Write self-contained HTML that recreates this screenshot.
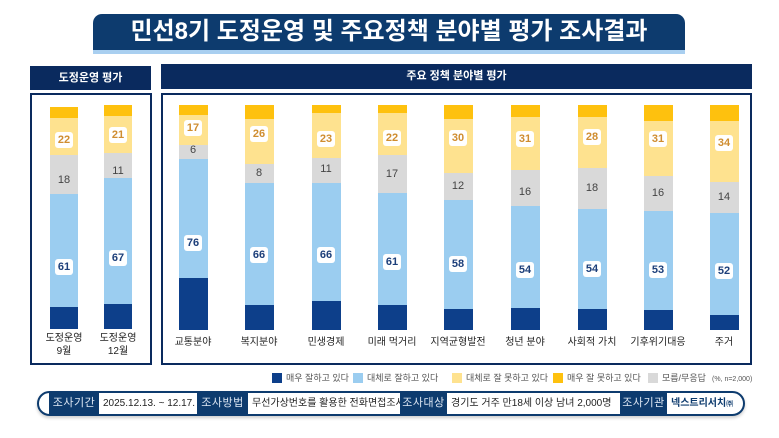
<!DOCTYPE html>
<html><head><meta charset="utf-8"><style>
*{margin:0;padding:0;box-sizing:border-box}
body{width:779px;height:438px;background:#fff;position:relative;overflow:hidden;font-family:"Liberation Sans","Noto Sans CJK KR",sans-serif}
.a{position:absolute}
.s{position:absolute}
.o{background:#fec10e}.y{background:#fee28f}.g{background:#d9d9d9}.b{background:#9bcdf0}.d{background:#0d3f8a}
.lb{position:absolute;width:18px;height:16px;margin-left:-9px;margin-top:-8px;background:#fff;border-radius:3px;font-size:11px;line-height:16px;text-align:center;font-weight:bold}
.ly{color:#cf8d30}.lbl{color:#1d3f7a}
.gt{position:absolute;width:20px;margin-left:-10px;margin-top:-7px;font-size:11px;line-height:14px;text-align:center;color:#444}
.cat{position:absolute;width:80px;margin-left:-40px;text-align:center;font-size:10px;color:#222;line-height:13px}
.leg{position:absolute;top:373px;width:10px;height:10px}
.lt{position:absolute;top:372px;font-size:9px;color:#555;line-height:12px}
.dk{position:absolute;top:393px;height:21px;background:#0d3b6e;color:#dfe8f4;font-size:11px;line-height:21px;text-align:center;letter-spacing:0.5px}
.wt{position:absolute;top:393px;height:21px;color:#222;font-size:10px;line-height:21px;padding-left:4px;white-space:nowrap}
</style></head><body>
<!-- title -->
<div class="a" style="left:93px;top:18px;width:592px;height:36px;background:#a9cff0;border-radius:9px 9px 0 0"></div>
<div class="a" style="left:93px;top:14px;width:592px;height:36px;background:#0d3b6e;border-radius:9px 9px 0 0;color:#fff;font-size:24px;font-weight:bold;text-align:center;line-height:36px">민선8기 도정운영 및 주요정책 분야별 평가 조사결과</div>
<!-- headers -->
<div class="a" style="left:30px;top:66px;width:121px;height:24px;background:#0a2a5e;color:#fff;font-size:11px;font-weight:bold;text-align:center;line-height:24px">도정운영 평가</div>
<div class="a" style="left:161px;top:64px;width:591px;height:25px;background:#0a2a5e;color:#fff;font-size:11px;font-weight:bold;text-align:center;line-height:25px">주요 정책 분야별 평가</div>
<div class="a" style="left:30px;top:93px;width:122px;height:272px;border:2px solid #0a2a5e"></div>
<div class="a" style="left:161px;top:93px;width:591px;height:272px;border:2px solid #0a2a5e"></div>

<!-- left bars -->
<div class="s o" style="left:50px;top:107px;width:28px;height:11px"></div>
<div class="s y" style="left:50px;top:118px;width:28px;height:37px"></div>
<div class="s g" style="left:50px;top:155px;width:28px;height:39px"></div>
<div class="s b" style="left:50px;top:194px;width:28px;height:113px"></div>
<div class="s d" style="left:50px;top:307px;width:28px;height:22px"></div>
<div class="lb ly" style="left:64px;top:140px">22</div><div class="gt" style="left:64px;top:180px">18</div><div class="lb lbl" style="left:64px;top:267px">61</div>
<div class="s o" style="left:104px;top:105px;width:28px;height:11px"></div>
<div class="s y" style="left:104px;top:116px;width:28px;height:37px"></div>
<div class="s g" style="left:104px;top:153px;width:28px;height:25px"></div>
<div class="s b" style="left:104px;top:178px;width:28px;height:126px"></div>
<div class="s d" style="left:104px;top:304px;width:28px;height:25px"></div>
<div class="lb ly" style="left:118px;top:135px">21</div><div class="gt" style="left:118px;top:171px">11</div><div class="lb lbl" style="left:118px;top:258px">67</div>
<div class="cat" style="left:64px;top:332px">도정운영<br>9월</div>
<div class="cat" style="left:118px;top:332px">도정운영<br>12월</div>

<!-- right bars -->
<div class="s o" style="left:179px;top:105px;width:29px;height:10px"></div><div class="s y" style="left:179px;top:115px;width:29px;height:30px"></div><div class="s g" style="left:179px;top:145px;width:29px;height:14px"></div><div class="s b" style="left:179px;top:159px;width:29px;height:119px"></div><div class="s d" style="left:179px;top:278px;width:29px;height:52px"></div>
<div class="lb ly" style="left:193px;top:128px">17</div><div class="gt" style="left:193px;top:150px">6</div><div class="lb lbl" style="left:193px;top:243px">76</div><div class="cat" style="left:193px;top:336px">교통분야</div>

<div class="s o" style="left:245px;top:105px;width:29px;height:14px"></div><div class="s y" style="left:245px;top:119px;width:29px;height:45px"></div><div class="s g" style="left:245px;top:164px;width:29px;height:19px"></div><div class="s b" style="left:245px;top:183px;width:29px;height:122px"></div><div class="s d" style="left:245px;top:305px;width:29px;height:25px"></div>
<div class="lb ly" style="left:259px;top:134px">26</div><div class="gt" style="left:259px;top:173px">8</div><div class="lb lbl" style="left:259px;top:255px">66</div><div class="cat" style="left:259px;top:336px">복지분야</div>

<div class="s o" style="left:312px;top:105px;width:29px;height:8px"></div><div class="s y" style="left:312px;top:113px;width:29px;height:45px"></div><div class="s g" style="left:312px;top:158px;width:29px;height:25px"></div><div class="s b" style="left:312px;top:183px;width:29px;height:118px"></div><div class="s d" style="left:312px;top:301px;width:29px;height:29px"></div>
<div class="lb ly" style="left:326px;top:139px">23</div><div class="gt" style="left:326px;top:169px">11</div><div class="lb lbl" style="left:326px;top:255px">66</div><div class="cat" style="left:326px;top:336px">민생경제</div>

<div class="s o" style="left:378px;top:105px;width:29px;height:8px"></div><div class="s y" style="left:378px;top:113px;width:29px;height:42px"></div><div class="s g" style="left:378px;top:155px;width:29px;height:38px"></div><div class="s b" style="left:378px;top:193px;width:29px;height:112px"></div><div class="s d" style="left:378px;top:305px;width:29px;height:25px"></div>
<div class="lb ly" style="left:392px;top:138px">22</div><div class="gt" style="left:392px;top:174px">17</div><div class="lb lbl" style="left:392px;top:262px">61</div><div class="cat" style="left:392px;top:336px">미래 먹거리</div>

<div class="s o" style="left:444px;top:105px;width:29px;height:14px"></div><div class="s y" style="left:444px;top:119px;width:29px;height:54px"></div><div class="s g" style="left:444px;top:173px;width:29px;height:27px"></div><div class="s b" style="left:444px;top:200px;width:29px;height:109px"></div><div class="s d" style="left:444px;top:309px;width:29px;height:21px"></div>
<div class="lb ly" style="left:458px;top:138px">30</div><div class="gt" style="left:458px;top:186px">12</div><div class="lb lbl" style="left:458px;top:264px">58</div><div class="cat" style="left:458px;top:336px">지역균형발전</div>

<div class="s o" style="left:511px;top:105px;width:29px;height:12px"></div><div class="s y" style="left:511px;top:117px;width:29px;height:53px"></div><div class="s g" style="left:511px;top:170px;width:29px;height:36px"></div><div class="s b" style="left:511px;top:206px;width:29px;height:102px"></div><div class="s d" style="left:511px;top:308px;width:29px;height:22px"></div>
<div class="lb ly" style="left:525px;top:139px">31</div><div class="gt" style="left:525px;top:192px">16</div><div class="lb lbl" style="left:525px;top:270px">54</div><div class="cat" style="left:525px;top:336px">청년 분야</div>

<div class="s o" style="left:578px;top:105px;width:29px;height:12px"></div><div class="s y" style="left:578px;top:117px;width:29px;height:51px"></div><div class="s g" style="left:578px;top:168px;width:29px;height:41px"></div><div class="s b" style="left:578px;top:209px;width:29px;height:100px"></div><div class="s d" style="left:578px;top:309px;width:29px;height:21px"></div>
<div class="lb ly" style="left:592px;top:137px">28</div><div class="gt" style="left:592px;top:188px">18</div><div class="lb lbl" style="left:592px;top:269px">54</div><div class="cat" style="left:592px;top:336px">사회적 가치</div>

<div class="s o" style="left:644px;top:105px;width:29px;height:16px"></div><div class="s y" style="left:644px;top:121px;width:29px;height:55px"></div><div class="s g" style="left:644px;top:176px;width:29px;height:35px"></div><div class="s b" style="left:644px;top:211px;width:29px;height:99px"></div><div class="s d" style="left:644px;top:310px;width:29px;height:20px"></div>
<div class="lb ly" style="left:658px;top:139px">31</div><div class="gt" style="left:658px;top:193px">16</div><div class="lb lbl" style="left:658px;top:270px">53</div><div class="cat" style="left:658px;top:336px">기후위기대응</div>

<div class="s o" style="left:710px;top:105px;width:29px;height:16px"></div><div class="s y" style="left:710px;top:121px;width:29px;height:61px"></div><div class="s g" style="left:710px;top:182px;width:29px;height:31px"></div><div class="s b" style="left:710px;top:213px;width:29px;height:102px"></div><div class="s d" style="left:710px;top:315px;width:29px;height:15px"></div>
<div class="lb ly" style="left:724px;top:143px">34</div><div class="gt" style="left:724px;top:197px">14</div><div class="lb lbl" style="left:724px;top:271px">52</div><div class="cat" style="left:724px;top:336px">주거</div>

<!-- legend -->
<div class="leg d" style="left:272px"></div><div class="lt" style="left:286px">매우 잘하고 있다</div>
<div class="leg b" style="left:353px"></div><div class="lt" style="left:367px">대체로 잘하고 있다</div>
<div class="leg y" style="left:452px"></div><div class="lt" style="left:466px">대체로 잘 못하고 있다</div>
<div class="leg o" style="left:553px"></div><div class="lt" style="left:567px">매우 잘 못하고 있다</div>
<div class="leg g" style="left:648px"></div><div class="lt" style="left:662px">모름/무응답</div>
<div class="lt" style="left:712px;font-size:7px;top:374px">(%, n=2,000)</div>

<!-- bottom bar -->
<div class="a" style="left:37px;top:391px;width:708px;height:25px;border:2px solid #0d3b6e;border-radius:13px;background:#fff;box-shadow:0 2px 3px rgba(0,0,0,0.2)"></div>
<div class="wt" style="left:99px">2025.12.13. ~ 12.17.</div>
<div class="wt" style="left:248px">무선가상번호를 활용한 전화면접조사</div>
<div class="wt" style="left:447px">경기도 거주 만18세 이상 남녀 2,000명</div>
<div class="wt" style="left:667px;color:#0d3b6e;font-weight:bold;font-size:10px">넥스트리서치<span style="font-size:7px">㈜</span></div>
<div class="dk" style="left:49px;width:50px">조사기간</div>
<div class="dk" style="left:197px;width:51px">조사방법</div>
<div class="dk" style="left:400px;width:47px">조사대상</div>
<div class="dk" style="left:620px;width:47px">조사기관</div>
</body></html>
